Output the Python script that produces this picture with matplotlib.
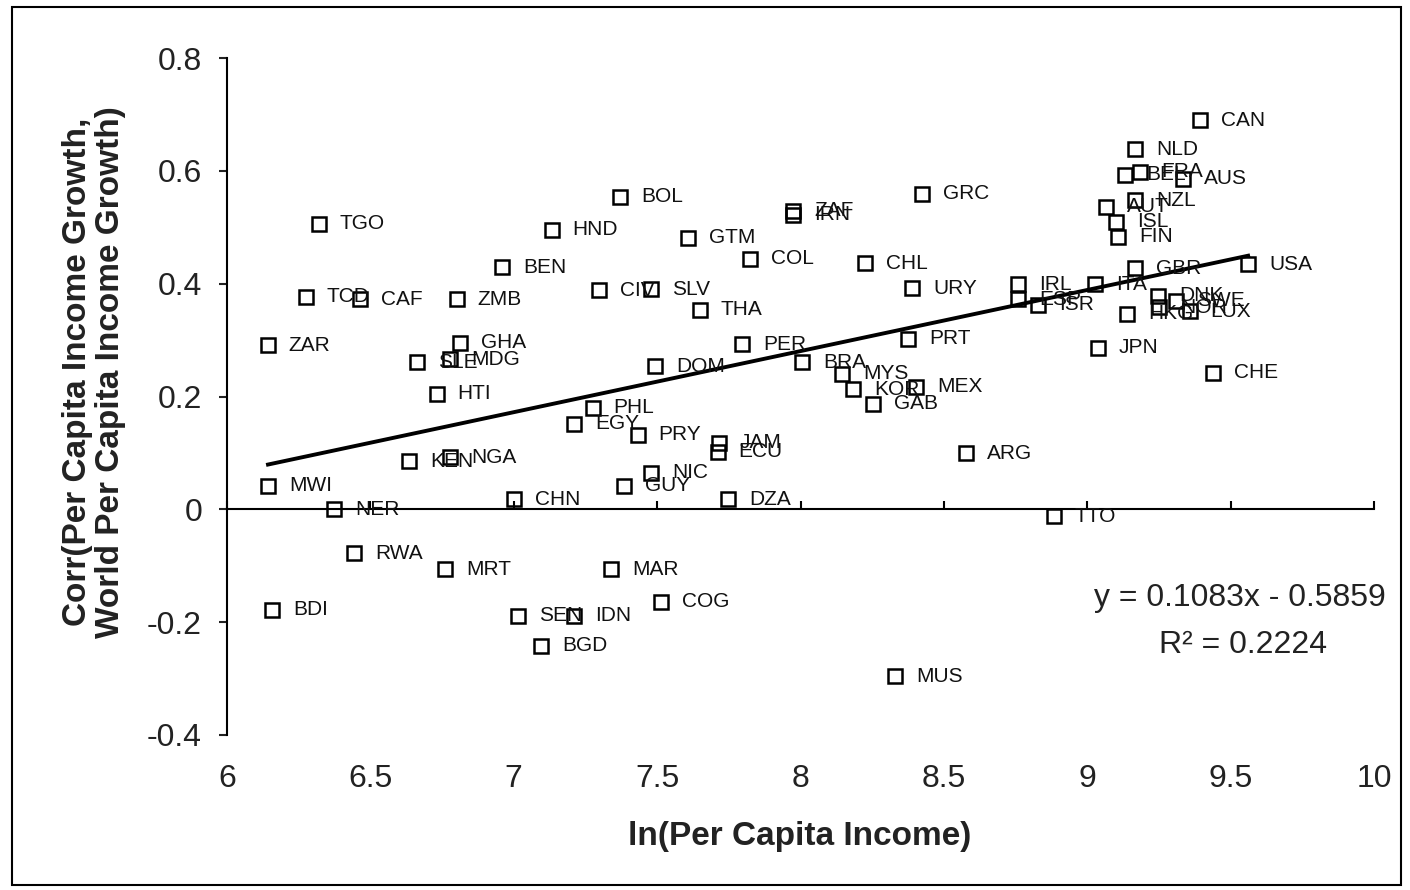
import matplotlib
matplotlib.use("Agg")
import matplotlib.pyplot as plt
import numpy as np
from matplotlib.patches import Rectangle

plt.rcParams['font.family'] = ['Liberation Sans', 'DejaVu Sans']

# country codes, ln(per capita income), correlation with world growth
countries = ['TGO', 'TCD', 'CAF', 'ZMB', 'ZAR', 'GHA', 'SLE', 'MDG', 'HTI', 'KEN',
             'NGA', 'MWI', 'NER', 'RWA', 'MRT', 'BDI', 'BEN', 'HND', 'BOL', 'CIV',
             'SLV', 'CHN', 'SEN', 'IDN', 'BGD', 'MAR', 'PHL', 'EGY', 'PRY', 'JAM',
             'ECU', 'NIC', 'GUY', 'DZA', 'ARG', 'COG', 'MUS', 'ZAF', 'IRN', 'GTM',
             'COL', 'GRC', 'CHL', 'URY', 'THA', 'PER', 'DOM', 'BRA', 'MYS', 'KOR',
             'GAB', 'MEX', 'PRT', 'TTO', 'IRL', 'ESP', 'ISR', 'ITA', 'GBR', 'USA',
             'DNK', 'NOR', 'SWE', 'LUX', 'HKG', 'JPN', 'CHE', 'CAN', 'NLD', 'BEL',
             'FRA', 'AUS', 'AUT', 'NZL', 'ISL', 'FIN']
ln_income = [6.321, 6.276, 6.464, 6.802, 6.143, 6.813, 6.663, 6.778, 6.732, 6.635,
             6.778, 6.143, 6.373, 6.443, 6.760, 6.157, 6.959, 7.133, 7.371, 7.297,
             7.479, 7.001, 7.015, 7.210, 7.095, 7.339, 7.276, 7.210, 7.433, 7.716,
             7.712, 7.479, 7.384, 7.747, 8.577, 7.514, 8.330, 7.974, 7.974, 7.608,
             7.824, 8.424, 8.225, 8.389, 7.650, 7.796, 7.493, 8.005, 8.145, 8.183,
             8.253, 8.403, 8.375, 8.884, 8.759, 8.759, 8.828, 9.027, 9.167, 9.561,
             9.247, 9.250, 9.310, 9.358, 9.139, 9.037, 9.439, 9.393, 9.167, 9.132,
             9.184, 9.334, 9.065, 9.167, 9.100, 9.107]
corr = [0.506, 0.377, 0.372, 0.372, 0.291, 0.295, 0.261, 0.266, 0.205, 0.085,
        0.092, 0.042, 0.000, -0.078, -0.106, -0.178, 0.429, 0.496, 0.554, 0.388,
        0.390, 0.018, -0.189, -0.189, -0.242, -0.106, 0.180, 0.152, 0.132, 0.118,
        0.102, 0.065, 0.042, 0.018, 0.099, -0.164, -0.296, 0.529, 0.522, 0.481,
        0.444, 0.559, 0.436, 0.392, 0.354, 0.293, 0.254, 0.261, 0.240, 0.213,
        0.187, 0.217, 0.302, -0.012, 0.399, 0.372, 0.363, 0.399, 0.427, 0.434,
        0.379, 0.358, 0.370, 0.351, 0.347, 0.286, 0.242, 0.690, 0.638, 0.593,
        0.598, 0.586, 0.536, 0.548, 0.510, 0.483]

slope = 0.1083
intercept = -0.5859
r_squared = 0.2224

x_ticks = [6, 6.5, 7, 7.5, 8, 8.5, 9, 9.5, 10]
x_tick_labels = ['6', '6.5', '7', '7.5', '8', '8.5', '9', '9.5', '10']
y_ticks = [-0.4, -0.2, 0, 0.2, 0.4, 0.6, 0.8]
y_tick_labels = ['-0.4', '-0.2', '0', '0.2', '0.4', '0.6', '0.8']

W, H = 1410, 890
fig = plt.figure(figsize=(W / 100, H / 100), dpi=100)
ax = fig.add_axes([227 / W, 1 - 735 / H, (1374 - 227) / W, (735 - 58) / H])
ax.set_xlim(6, 10)
ax.set_ylim(-0.4, 0.8)

ax.plot(ln_income, corr, ls='none', marker='s', ms=9.5, mfc='none', mec='black', mew=1.8, zorder=3)

# linear trend line over the range of the data
xs = np.array([min(ln_income), max(ln_income)])
ax.plot(xs, slope * xs + intercept, color='black', lw=2.8, zorder=4)

for name, xv, yv in zip(countries, ln_income, corr):
    ax.annotate(name, (xv, yv), xytext=(15, 0), textcoords='offset points',
                va='center', ha='left', fontsize=15, color='#111111', zorder=5)

for side in ['top', 'right']:
    ax.spines[side].set_visible(False)
ax.spines['bottom'].set_position(('data', 0))
ax.spines['bottom'].set_linewidth(1.5)
ax.spines['left'].set_linewidth(1.5)

ax.set_xticks(x_ticks)
ax.tick_params(axis='x', direction='in', length=6, width=1.5, labelbottom=False)
ax.set_yticks(y_ticks, y_tick_labels)
ax.tick_params(axis='y', direction='out', length=6, width=1.5, labelsize=23, pad=12, colors='#222222')

sec = ax.secondary_xaxis('bottom')
sec.spines['bottom'].set_visible(False)
sec.set_xticks(x_ticks, x_tick_labels)
sec.tick_params(length=0, labelsize=23, pad=21, colors='#222222')

fig.text(800 / W, 1 - 836 / H, 'ln(Per Capita Income)', fontsize=24, fontweight='bold',
         ha='center', va='center', color='#222222')
fig.text(94 / W, 1 - 372 / H, 'Corr(Per Capita Income Growth,\nWorld Per Capita Income Growth)',
         fontsize=24, fontweight='bold', rotation=90, ha='center', va='center',
         multialignment='center', linespacing=1.05, color='#222222')

fig.text(1240 / W, 1 - 598 / H, 'y = {:.4f}x - {:.4f}'.format(slope, -intercept),
         fontsize=23, ha='center', va='center', color='#222222')
fig.text(1243 / W, 1 - 645 / H, 'R\u00b2 = {:.4f}'.format(r_squared),
         fontsize=23, ha='center', va='center', color='#222222')

fig.add_artist(Rectangle((12 / W, 1 - 885 / H), (1401 - 12) / W, (885 - 7) / H,
                         transform=fig.transFigure, fill=False, lw=1.5, ec='black'))

fig.savefig('out.png', dpi=100)
